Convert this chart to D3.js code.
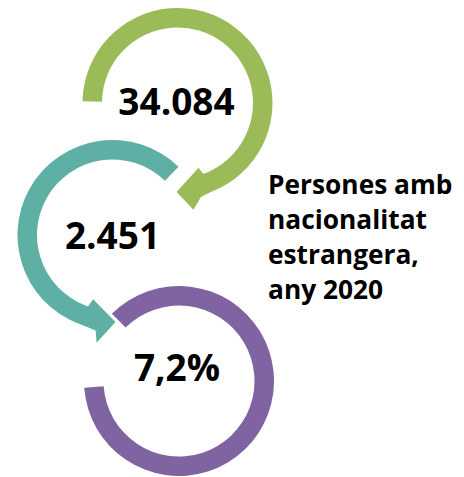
<!DOCTYPE html>
<html>
<head>
<meta charset="utf-8">
<script src="https://cdn.jsdelivr.net/npm/d3@7"></script>
<style>
  html, body { margin: 0; padding: 0; background: #ffffff; }
  svg { display: block; }
</style>
</head>
<body>
<div id="chart"></div>
<script>
// ---- data ----
const labels = ["34.084", "2.451", "7,2%"];
const colors = ["#9bbb59", "#5eb0a5", "#8064a2"];
const titleLines = ["Persones amb", "nacionalitat", "estrangera,", "any 2020"];

// ---- layout ----
const W = 464, H = 477;
const R = 95, r = 75.5;
const deg = Math.PI / 180;
const rings = [
  { cx: 177.5, cy: 103, start: -89, end: 164,
    head: [[160, r], [162, 68], [180.6, 89], [171.5, 108], [166, 97], [160, R]] ,
    tx: 176.5, ty: 115 },
  { cx: 112.5, cy: 235, start: -166, end: 44,
    head: [[199, r], [196.8, 67], [178, 87], [188.4, 109], [190, 97], [199, R]],
    tx: 112.5, ty: 249 },
  { cx: 179, cy: 381, start: -45, end: 266, head: null,
    tx: 177, ty: 381 }
];

const svg = d3.select("#chart").append("svg")
  .attr("width", W).attr("height", H);

const arc = d3.arc().innerRadius(r).outerRadius(R);
const polar = (cx, cy) => d => [cx + d[1] * Math.sin(d[0] * deg), cy - d[1] * Math.cos(d[0] * deg)];

rings.forEach((g, i) => {
  const grp = svg.append("g");
  grp.append("path")
    .attr("transform", `translate(${g.cx},${g.cy})`)
    .attr("d", arc({ startAngle: g.start * deg, endAngle: g.end * deg }))
    .attr("fill", colors[i]);
  if (g.head) {
    const pts = g.head.map(polar(g.cx, g.cy));
    grp.append("path")
      .attr("d", d3.line()(pts) + "Z")
      .attr("fill", colors[i]);
  }
});

// numbers drawn above rings
rings.forEach((g, i) => {
  svg.append("text")
    .attr("x", g.tx).attr("y", g.ty)
    .attr("text-anchor", "middle")
    .attr("font-family", "'Open Sans', sans-serif")
    .attr("font-weight", 700)
    .attr("font-size", 37)
    .attr("fill", "#000")
    .text(labels[i]);
});

const title = svg.append("text")
  .attr("font-family", "'Open Sans', sans-serif")
  .attr("font-weight", 700)
  .attr("font-size", 26.3)
  .attr("fill", "#000");
titleLines.forEach((t, i) => {
  title.append("tspan").attr("x", 268).attr("y", 194 + i * 35).text(t);
});
</script>
</body>
</html>
